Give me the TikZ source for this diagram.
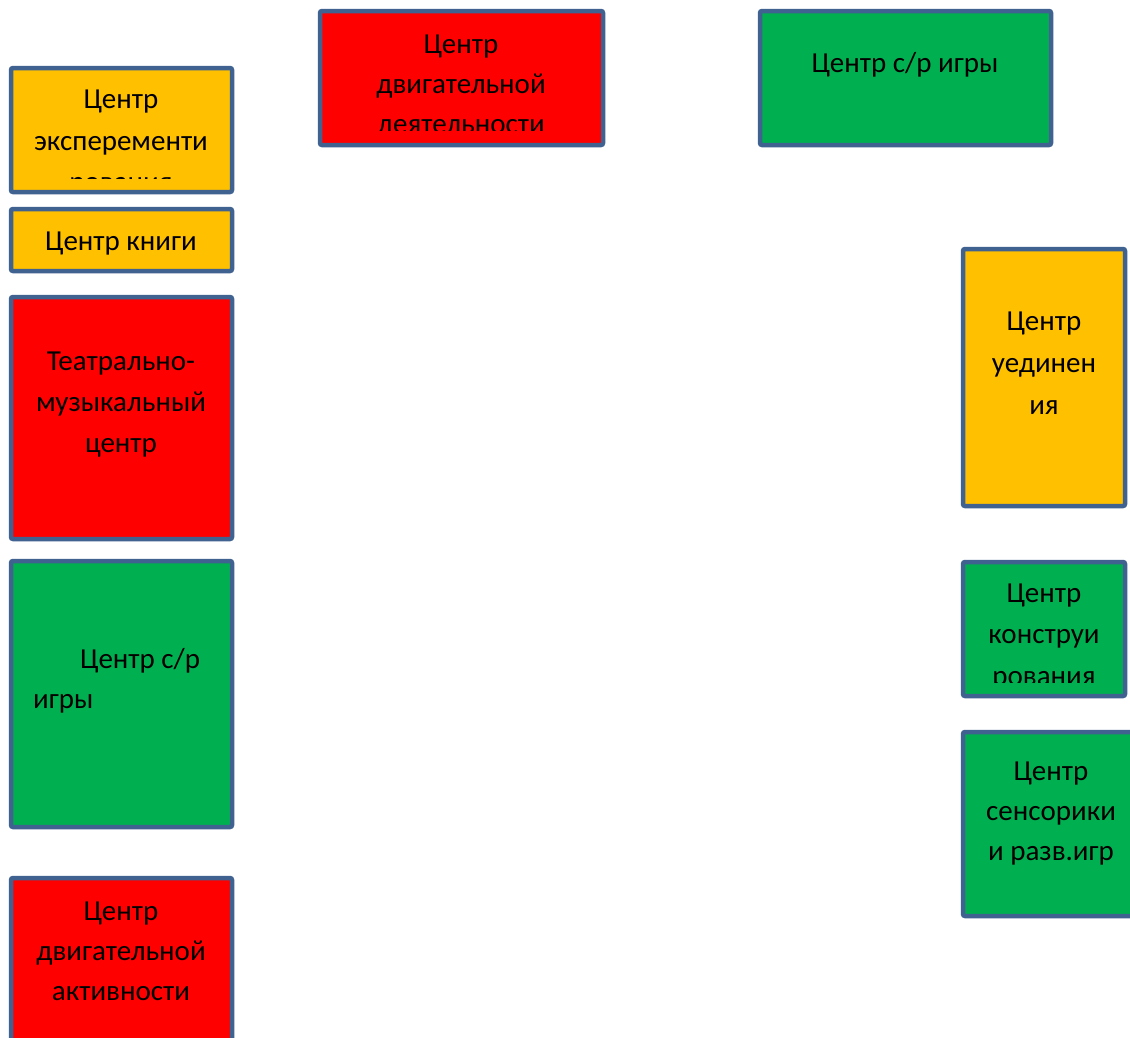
\documentclass[tikz,border=0pt]{standalone}
\usepackage{fontspec}
\setmainfont{Carlito}
\definecolor{bordc}{RGB}{63,98,145}
\definecolor{cred}{RGB}{255,0,0}
\definecolor{corange}{RGB}{255,192,0}
\definecolor{cgreen}{RGB}{0,176,80}
\tikzset{
  box/.style={draw=bordc, line width=4.5pt, rounded corners=2pt, rectangle, inner sep=0pt, outer sep=0pt},
  lbl/.style={inner sep=0pt, anchor=base, font=\fontsize{29}{40}\selectfont, text=black},
  lblw/.style={inner sep=0pt, anchor=base west, font=\fontsize{29}{40}\selectfont, text=black}
}
\begin{document}
\begin{tikzpicture}[x=1pt,y=-1pt]
\clip (0,0) rectangle (1130,1037);
\fill[white] (0,0) rectangle (1130,1037);

% left column
\node[box, fill=corange, minimum width=221pt, minimum height=124pt] (exp) at (121.5,130) {};
\begin{scope}
\clip (11,68) rectangle (232,178);
\node[lbl] (exp1) at (121,108) {Центр};
\node[lbl] (exp2) at (121,150) {эксперементи};
\node[lbl] (exp3) at (121,191) {рования};
\end{scope}

\node[box, fill=corange, minimum width=221pt, minimum height=62pt] (kn) at (121.5,240) {};
\node[lbl] (kn1) at (121,250) {Центр книги};

\node[box, fill=cred, minimum width=221pt, minimum height=242pt] (teatr) at (121.5,418) {};
\node[lbl] (teatr1) at (121,370) {Театрально-};
\node[lbl] (teatr2) at (121,411) {музыкальный};
\node[lbl] (teatr3) at (121,452) {центр};

\node[box, fill=cgreen, minimum width=221pt, minimum height=266pt] (srl) at (121.5,694) {};
\node[lblw] (srl1) at (80,668) {Центр с/р};
\node[lblw] (srl2) at (33,708) {игры};

\node[box, fill=cred, minimum width=221pt, minimum height=200pt] (akt) at (121.5,978) {};
\node[lbl] (akt1) at (121,920) {Центр};
\node[lbl] (akt2) at (121,960) {двигательной};
\node[lbl] (akt3) at (121,1000) {активности};

% top row
\node[box, fill=cred, minimum width=283pt, minimum height=134pt] (dvd) at (461.5,78) {};
\begin{scope}
\clip (320,11) rectangle (603,130);
\node[lbl] (dvd1) at (461,53) {Центр};
\node[lbl] (dvd2) at (461,93) {двигательной};
\node[lbl] (dvd3) at (461,133) {деятельности};
\end{scope}

\node[box, fill=cgreen, minimum width=291pt, minimum height=134pt] (srt) at (905.5,78) {};
\node[lbl] (srt1) at (905,72) {Центр с/р игры};

% right column
\node[box, fill=corange, minimum width=162pt, minimum height=257pt] (ued) at (1044,377.5) {};
\node[lbl] (ued1) at (1044,330) {Центр};
\node[lbl] (ued2) at (1044,372) {уединен};
\node[lbl] (ued3) at (1044,414) {ия};

\node[box, fill=cgreen, minimum width=162pt, minimum height=134pt] (kon) at (1044,629) {};
\begin{scope}
\clip (963,562) rectangle (1125,682);
\node[lbl] (kon1) at (1044,602) {Центр};
\node[lbl] (kon2) at (1044,643) {конструи};
\node[lbl] (kon3) at (1044,685) {рования};
\end{scope}

\node[box, fill=cgreen, minimum width=174pt, minimum height=184pt] (sen) at (1050,824) {};
\node[lbl] (sen1) at (1051,780) {Центр};
\node[lbl] (sen2) at (1051,820) {сенсорики};
\node[lbl] (sen3) at (1051,860) {и разв.игр};
\end{tikzpicture}
\end{document}
